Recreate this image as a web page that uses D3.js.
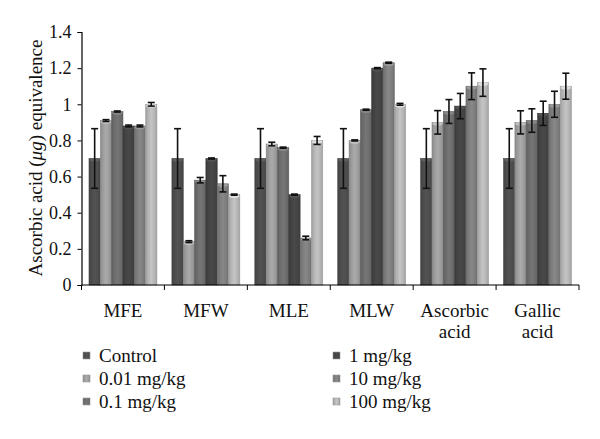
<!DOCTYPE html>
<html><head><meta charset="utf-8">
<script src="https://cdn.jsdelivr.net/npm/d3@7"></script>
<style>body{margin:0;background:#fff;} svg{display:block;}</style>
</head><body>
<svg id="c" width="600" height="439"></svg>
<script>
const categories = ["MFE","MFW","MLE","MLW","Ascorbic acid","Gallic acid"];
const seriesNames = ["Control","0.01 mg/kg","0.1 mg/kg","1 mg/kg","10 mg/kg","100 mg/kg"];
// values per series, one per category
const control   = [0.70, 0.70, 0.70, 0.70, 0.70, 0.70];
const dose001   = [0.91, 0.24, 0.78, 0.80, 0.90, 0.90];
const dose01    = [0.96, 0.58, 0.76, 0.97, 0.96, 0.91];
const dose1     = [0.88, 0.70, 0.50, 1.20, 0.99, 0.95];
const dose10    = [0.88, 0.56, 0.26, 1.23, 1.10, 1.00];
const dose100   = [1.00, 0.50, 0.80, 1.00, 1.12, 1.10];
// error (± SD) per series
const errControl = [0.165, 0.165, 0.165, 0.165, 0.165, 0.165];
const err001     = [0.005, 0.005, 0.010, 0.003, 0.065, 0.064];
const err01      = [0.003, 0.015, 0.003, 0.003, 0.066, 0.065];
const err1       = [0.005, 0.003, 0.003, 0.003, 0.070, 0.067];
const err10      = [0.005, 0.045, 0.010, 0.003, 0.074, 0.072];
const err100     = [0.010, 0.003, 0.022, 0.005, 0.076, 0.072];
const yTicks = [0, 0.2, 0.4, 0.6, 0.8, 1, 1.2, 1.4];

const values = [control, dose001, dose01, dose1, dose10, dose100];
const errors = [errControl, err001, err01, err1, err10, err100];
const baseColors = ["#4c4c4c","#9c9c9c","#6c6c6c","#434343","#7c7c7c","#b4b4b4"];

const svg = d3.select("#c");
const FONT = "'Liberation Serif','Times New Roman',serif";

const x0 = d3.scaleBand().domain(categories).range([81.5, 579]).paddingInner(0).paddingOuter(0);
const x1 = d3.scaleBand().domain(seriesNames).range([7.5, x0.bandwidth() - 7.5]).padding(0);
const y = d3.scaleLinear().domain([0, 1.4]).range([285, 32]);

// gradients
const defs = svg.append("defs");
baseColors.forEach((c, i) => {
  const base = d3.color(c);
  const g = defs.append("linearGradient").attr("id", "g" + i)
    .attr("x1", "0%").attr("x2", "100%").attr("y1", "0%").attr("y2", "0%");
  g.append("stop").attr("offset", "0%").attr("stop-color", base.darker(0.45));
  g.append("stop").attr("offset", "15%").attr("stop-color", base.darker(0.1));
  g.append("stop").attr("offset", "50%").attr("stop-color", base.brighter(0.25));
  g.append("stop").attr("offset", "85%").attr("stop-color", base.darker(0.05));
  g.append("stop").attr("offset", "100%").attr("stop-color", base.darker(0.45));
});

// bars
const rows = [];
categories.forEach((cat, ci) => {
  seriesNames.forEach((s, si) => {
    rows.push({cat, s, si, v: values[si][ci], e: errors[si][ci]});
  });
});

const bars = svg.append("g");
bars.selectAll("rect").data(rows).join("rect")
  .attr("x", d => x0(d.cat) + x1(d.s))
  .attr("y", d => y(d.v))
  .attr("width", x1.bandwidth())
  .attr("height", d => y(0) - y(d.v))
  .attr("fill", d => `url(#g${d.si})`)
  .attr("stroke", d => d3.color(baseColors[d.si]).darker(0.3))
  .attr("stroke-width", 0.6);

// top caps
bars.selectAll("ellipse").data(rows).join("ellipse")
  .attr("cx", d => x0(d.cat) + x1(d.s) + x1.bandwidth() / 2)
  .attr("cy", d => y(d.v) + 1.5)
  .attr("rx", x1.bandwidth() / 2 - 0.5)
  .attr("ry", 1.8)
  .attr("fill", d => d3.color(baseColors[d.si]).brighter(0.6));

// error bars
const eg = svg.append("g").attr("stroke", "#111").attr("stroke-width", 1.6).attr("fill", "none");
rows.forEach(d => {
  const cx = x0(d.cat) + x1(d.s) + x1.bandwidth() / 2;
  const yt = y(d.v + d.e), yb = y(d.v - d.e);
  eg.append("line").attr("x1", cx).attr("x2", cx).attr("y1", yt).attr("y2", yb);
  eg.append("line").attr("x1", cx - 3.5).attr("x2", cx + 3.5).attr("y1", yt).attr("y2", yt);
  eg.append("line").attr("x1", cx - 3.5).attr("x2", cx + 3.5).attr("y1", yb).attr("y2", yb);
});

// y axis
const yAxis = d3.axisLeft(y).tickValues(yTicks).tickSize(4).tickPadding(6)
  .tickFormat(d => d3.format("")(Math.round(d * 10) / 10));
const ya = svg.append("g").attr("transform", "translate(81.5,0)").call(yAxis);
ya.select(".domain").attr("stroke", "#000").attr("stroke-width", 1.2);
ya.selectAll(".tick line").attr("stroke", "#000");
ya.selectAll(".tick text").attr("font-family", FONT).attr("font-size", 18).attr("fill", "#111");

// x axis
const xa = svg.append("g").attr("transform", "translate(0,285)");
xa.append("line").attr("x1", 81.5).attr("x2", 579).attr("y1", 0).attr("y2", 0)
  .attr("stroke", "#000").attr("stroke-width", 1.2);
const bounds = categories.map(c => x0(c)).concat([x0.range()[1]]);
xa.selectAll("line.tk").data(bounds).join("line").attr("class", "tk")
  .attr("x1", d => d).attr("x2", d => d).attr("y1", 0).attr("y2", 5)
  .attr("stroke", "#000").attr("stroke-width", 1);
xa.selectAll("text").data(categories).join("text")
  .attr("x", d => x0(d) + x0.bandwidth() / 2)
  .attr("y", 32)
  .attr("text-anchor", "middle")
  .attr("font-family", FONT).attr("font-size", 19).attr("fill", "#111")
  .each(function(d) {
    const parts = d.split(" ");
    const t = d3.select(this);
    parts.forEach((p, i) => {
      t.append("tspan").attr("x", x0(d) + x0.bandwidth() / 2).attr("dy", i === 0 ? 0 : 21).text(p);
    });
  });

// y title
const yt = svg.append("text")
  .attr("transform", "translate(42,158) rotate(-90)")
  .attr("text-anchor", "middle")
  .attr("font-family", FONT).attr("font-size", 19).attr("fill", "#111");
yt.append("tspan").text("Ascorbic acid (");
yt.append("tspan").attr("font-style", "italic").text("μg");
yt.append("tspan").text(") equivalence");

// legend
const legPos = [[83, 362], [83, 385], [83, 408], [333, 362], [333, 385], [333, 408]];
const lg = svg.append("g");
seriesNames.forEach((s, i) => {
  const [lx, ly] = legPos[i];
  lg.append("rect").attr("x", lx).attr("y", ly - 10).attr("width", 7).attr("height", 7)
    .attr("fill", `url(#g${i})`).attr("stroke", "#999").attr("stroke-width", 0.6);
  lg.append("text").attr("x", lx + 16).attr("y", ly)
    .attr("font-family", FONT).attr("font-size", 19).attr("fill", "#111").text(s);
});
</script>
</body></html>
